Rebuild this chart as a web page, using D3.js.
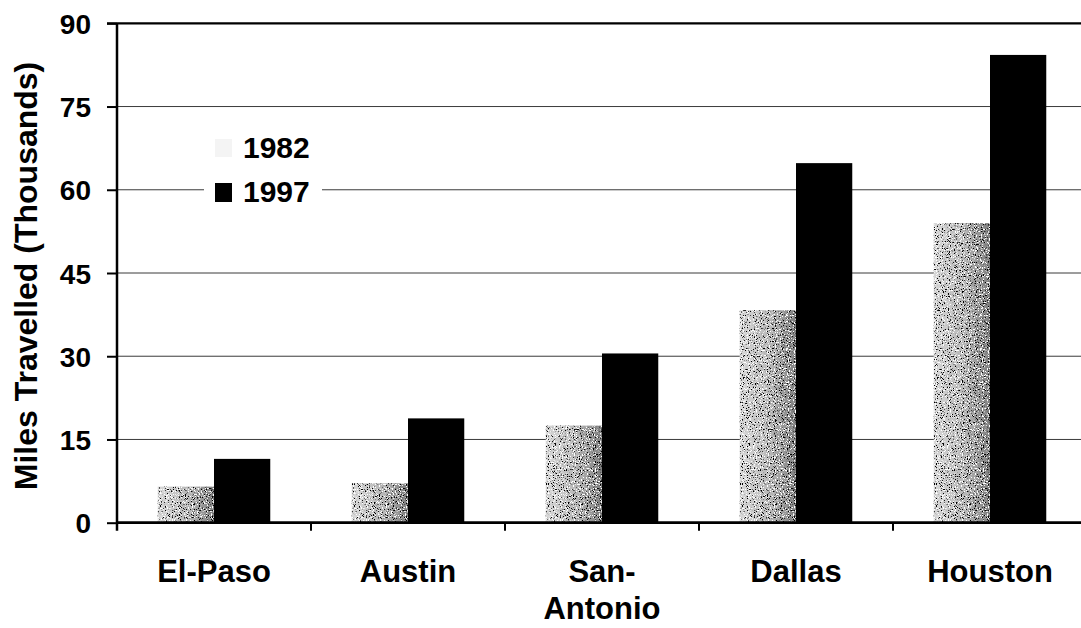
<!DOCTYPE html>
<html>
<head>
<meta charset="utf-8">
<script src="https://cdn.jsdelivr.net/npm/d3@7"></script>
<style>
  html, body { margin: 0; padding: 0; background: #fff; }
  svg { display: block; }
  text { font-family: "Liberation Sans", Arial, sans-serif; font-weight: bold; fill: #000; }
</style>
</head>
<body>
<svg id="chart" width="1081" height="628"></svg>
<script>
const categories = ["El-Paso", "Austin", "San-\nAntonio", "Dallas", "Houston"];
const seriesNames = ["1982", "1997"];
const values1982 = [6.5, 7.1, 17.5, 38.3, 54.0];
const values1997 = [11.5, 18.8, 30.5, 64.8, 84.3];
const yTicks = [0, 15, 30, 45, 60, 75, 90];
const yTitle = "Miles Travelled (Thousands)";

const svg = d3.select("#chart");
const W = 1081, H = 628;
const plotLeft = 117, plotTop = 23.3, plotBottom = 522.7;

const x0 = d3.scaleBand().domain(categories).range([plotLeft, plotLeft + 194 * categories.length]).padding(0);
const x1 = d3.scaleBand().domain(seriesNames)
  .range([x0.bandwidth() * 0.21, x0.bandwidth() * 0.79]).padding(0);
const y = d3.scaleLinear().domain([0, 90]).range([plotBottom, plotTop]);

const defs = svg.append("defs");
const grad = defs.append("linearGradient").attr("id", "g82").attr("x1", "0").attr("x2", "1").attr("y1", "0").attr("y2", "0");
grad.append("stop").attr("offset", "0%").attr("stop-color", "#d8d8d8");
grad.append("stop").attr("offset", "55%").attr("stop-color", "#b6b6b6");
grad.append("stop").attr("offset", "100%").attr("stop-color", "#7c7c7c");

// speckle filters
function speckle(id, color, seed, thr) {
  const f = defs.append("filter").attr("id", id).attr("x", "0").attr("y", "0").attr("width", "100%").attr("height", "100%");
  f.append("feTurbulence").attr("type", "fractalNoise").attr("baseFrequency", "0.85").attr("numOctaves", "2").attr("seed", seed).attr("result", "t");
  const c = color === "white" ? 1 : 0;
  f.append("feColorMatrix").attr("in", "t").attr("type", "matrix")
    .attr("values", `0 0 0 0 ${c}  0 0 0 0 ${c}  0 0 0 0 ${c}  10 0 0 0 ${-10 * thr}`).attr("result", "m");
  f.append("feComposite").attr("in", "m").attr("in2", "SourceGraphic").attr("operator", "in");
}
speckle("spW", "white", 3, 0.56);
speckle("spK", "black", 7, 0.60);

// gridlines
const grid = svg.append("g");
grid.selectAll("line").data(yTicks.filter(d => d > 0 && d < 90)).join("line")
  .attr("x1", plotLeft).attr("x2", W)
  .attr("y1", d => y(d)).attr("y2", d => y(d))
  .attr("stroke", "#3a3a3a").attr("stroke-width", 1);

// top line at 90
svg.append("line").attr("x1", plotLeft - 10).attr("x2", W).attr("y1", y(90)).attr("y2", y(90))
  .attr("stroke", "#000").attr("stroke-width", 2.2);

// legend background (breaks gridline)
const lg = svg.append("g");
lg.append("rect").attr("x", 204).attr("y", 128).attr("width", 118).attr("height", 82).attr("fill", "#fff");
const legendY = [148, 192];
lg.append("rect").attr("x", 215).attr("y", legendY[0] - 9).attr("width", 17).attr("height", 18).attr("fill", "#f4f4f4");
lg.append("rect").attr("x", 215).attr("y", legendY[1] - 9).attr("width", 17).attr("height", 19).attr("fill", "#000");
lg.selectAll("text").data(seriesNames).join("text")
  .attr("x", 243).attr("y", (d, i) => legendY[i] + 10)
  .attr("font-size", 30).text(d => d);

// bars
const groups = svg.append("g").selectAll("g").data(categories).join("g")
  .attr("transform", d => `translate(${x0(d)},0)`);
groups.append("rect")
  .attr("x", x1("1982")).attr("width", x1.bandwidth())
  .attr("y", (d, i) => y(values1982[i])).attr("height", (d, i) => y(0) - y(values1982[i]))
  .attr("fill", "url(#g82)");
groups.append("rect")
  .attr("x", x1("1982")).attr("width", x1.bandwidth())
  .attr("y", (d, i) => y(values1982[i])).attr("height", (d, i) => y(0) - y(values1982[i]))
  .attr("fill", "#fff").attr("filter", "url(#spW)");
groups.append("rect")
  .attr("x", x1("1982")).attr("width", x1.bandwidth())
  .attr("y", (d, i) => y(values1982[i])).attr("height", (d, i) => y(0) - y(values1982[i]))
  .attr("fill", "#222").attr("filter", "url(#spK)");
groups.append("rect")
  .attr("x", x1("1997")).attr("width", x1.bandwidth())
  .attr("y", (d, i) => y(values1997[i])).attr("height", (d, i) => y(0) - y(values1997[i]))
  .attr("fill", "#000");

// y axis
const yAxis = d3.axisLeft(y).tickValues(yTicks).tickSize(10).tickPadding(16);
const gy = svg.append("g").attr("transform", `translate(${plotLeft},0)`).call(yAxis);
gy.select(".domain").remove();
gy.selectAll(".tick line").attr("stroke", "#000").attr("stroke-width", 2);
gy.selectAll(".tick text").attr("font-size", 28).attr("font-family", "Liberation Sans, Arial, sans-serif")
  .attr("font-weight", "bold").attr("fill", "#000").attr("dy", "0.36em");
svg.append("line").attr("x1", plotLeft).attr("x2", plotLeft).attr("y1", y(90)).attr("y2", y(0) + 8)
  .attr("stroke", "#000").attr("stroke-width", 2.5);

// x axis
svg.append("line").attr("x1", plotLeft).attr("x2", W).attr("y1", y(0)).attr("y2", y(0))
  .attr("stroke", "#000").attr("stroke-width", 2.8);
const xAxis = d3.axisBottom(x0).tickSize(0).tickFormat("");
const gx = svg.append("g").attr("transform", `translate(0,${y(0)})`).call(xAxis);
gx.select(".domain").remove();
// boundary ticks
svg.append("g").selectAll("line").data(categories.slice(1)).join("line")
  .attr("x1", d => x0(d)).attr("x2", d => x0(d))
  .attr("y1", y(0)).attr("y2", y(0) + 8)
  .attr("stroke", "#000").attr("stroke-width", 2);
// category labels
svg.append("g").selectAll("text").data(categories).join("text")
  .attr("text-anchor", "middle").attr("font-size", 31)
  .attr("transform", d => `translate(${x0(d) + x0.bandwidth() / 2},582)`)
  .each(function (d) {
    const lines = d.split("\n");
    d3.select(this).selectAll("tspan").data(lines).join("tspan")
      .attr("x", 0).attr("dy", (l, i) => i === 0 ? 0 : 37).text(l => l);
  });

// y title
svg.append("text").attr("transform", `translate(37,${(plotTop + plotBottom) / 2 + 3}) rotate(-90)`)
  .attr("text-anchor", "middle").attr("font-size", 32).text(yTitle);
</script>
</body>
</html>
